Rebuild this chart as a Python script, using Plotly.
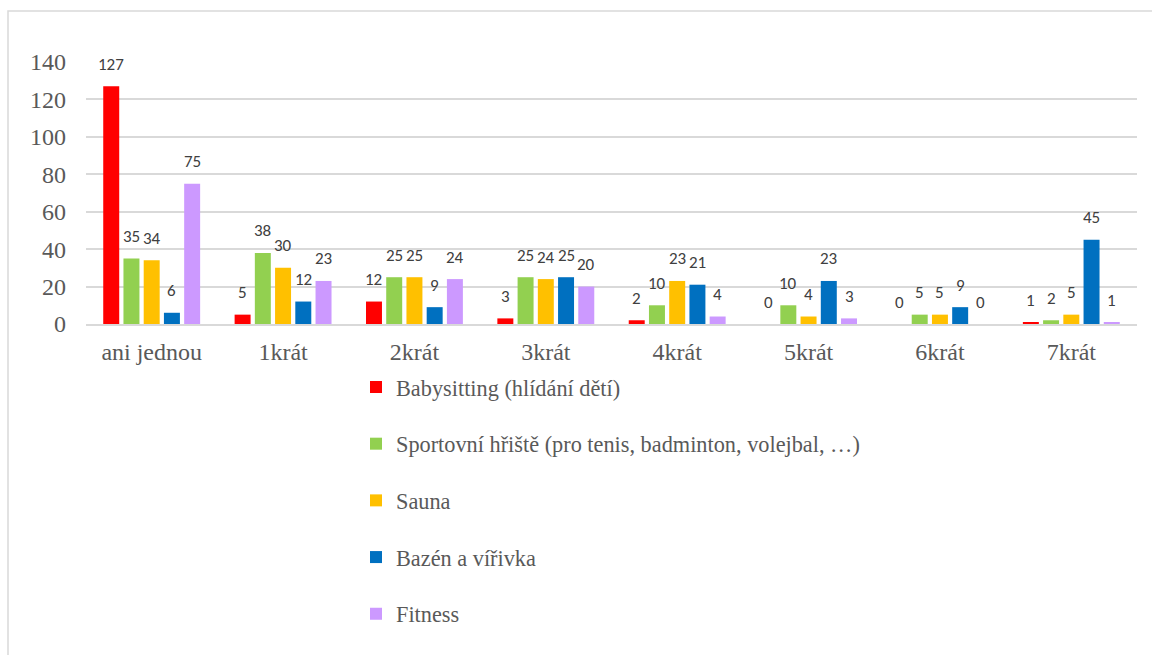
import plotly.graph_objects as go

# Usage frequency categories (x axis)
categories = ["ani jednou", "1krát", "2krát", "3krát", "4krát", "5krát", "6krát", "7krát"]

# Number of respondents per service
babysitting = [127, 5, 12, 3, 2, 0, 0, 1]
sportovni = [35, 38, 25, 25, 10, 10, 5, 2]
sauna = [34, 30, 25, 24, 23, 4, 5, 5]
bazen = [6, 12, 9, 25, 21, 23, 9, 45]
fitness = [75, 23, 24, 20, 4, 3, 0, 1]

series_names = [
    "Babysitting (hlídání dětí)",
    "Sportovní hřiště (pro tenis, badminton, volejbal, …)",
    "Sauna",
    "Bazén a vířivka",
    "Fitness",
]
series_values = [babysitting, sportovni, sauna, bazen, fitness]
series_colors = ["#FF0000", "#92D050", "#FFC000", "#0070C0", "#CC99FF"]

y_ticks = [0, 20, 40, 60, 80, 100, 120, 140]

W, H = 1152, 655
ML, MR, MT, MB = 86, 15, 62, 331
PW = W - ML - MR
PH = H - MT - MB

SERIF = "Liberation Serif"
LABEL_FONT = "Carlito"

fig = go.Figure()
for idx, (name, vals, col) in enumerate(zip(series_names, series_values, series_colors)):
    fig.add_trace(go.Bar(
        x=categories,
        y=vals,
        name=name,
        legendgroup=f"g{idx}",
        marker=dict(color=col, line=dict(width=0)),
        hoverinfo="skip",
    ))

# Value labels above each bar
n_series = len(series_values)
slot_px = (1 - 0.23) * (PW / len(categories)) / n_series
annotations = []
for idx, vals in enumerate(series_values):
    dx = (idx - (n_series - 1) / 2) * slot_px
    for cat, v in zip(categories, vals):
        annotations.append(dict(
            x=cat, y=v, xref="x", yref="y",
            text=str(v), showarrow=False,
            xshift=dx, yshift=22,
            xanchor="center", yanchor="middle",
            font=dict(family=LABEL_FONT, size=17, color="#404040"),
        ))


def px_x(px):
    return (px - ML) / PW


def px_y(py):
    return (H - MB - py) / PH


fig.update_layout(
    width=W, height=H,
    margin=dict(l=ML, r=MR, t=MT, b=MB, autoexpand=False),
    paper_bgcolor="white",
    plot_bgcolor="white",
    barmode="group",
    bargap=0.23,
    bargroupgap=0.21,
    annotations=annotations,
    shapes=[dict(
        type="rect", xref="paper", yref="paper",
        x0=px_x(8), x1=px_x(1175), y0=px_y(11), y1=px_y(690),
        line=dict(color="#D9D9D9", width=1.5),
        fillcolor="rgba(0,0,0,0)", layer="below",
    )],
    showlegend=True,
    legend=dict(
        orientation="v",
        x=px_x(356), xanchor="left",
        y=px_y(366), yanchor="top",
        font=dict(family=SERIF, size=22.3, color="#595959"),
        tracegroupgap=24.7,
        itemclick=False, itemdoubleclick=False,
        bgcolor="rgba(0,0,0,0)",
    ),
    xaxis=dict(
        type="category",
        showgrid=False,
        showline=True, linecolor="#D9D9D9", linewidth=1.5,
        ticks="",
        tickfont=dict(family=SERIF, size=24, color="#595959"),
        ticklabelstandoff=5,
        automargin=False,
        fixedrange=True,
    ),
    yaxis=dict(
        range=[0, 140],
        tickvals=y_ticks,
        showgrid=True, gridcolor="#D9D9D9", gridwidth=1.5,
        zeroline=False,
        showline=False,
        ticks="",
        tickfont=dict(family=SERIF, size=24, color="#595959"),
        ticklabelstandoff=19,
        automargin=False,
        fixedrange=True,
    ),
)

fig.write_html("out.html")
